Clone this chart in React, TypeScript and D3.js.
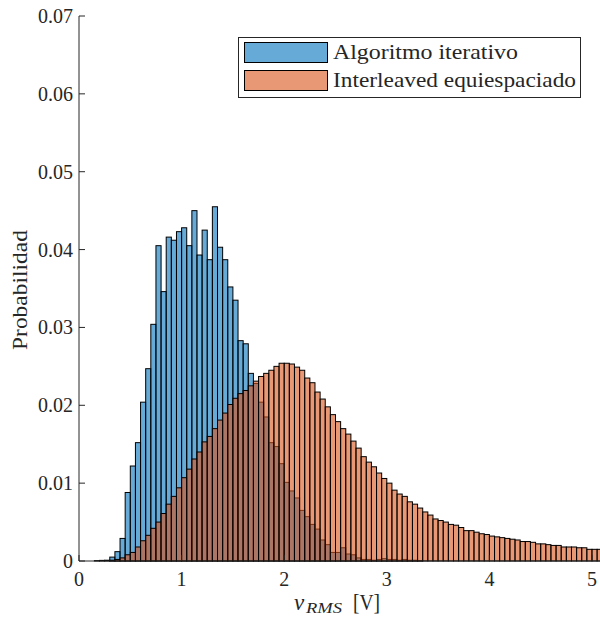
import React from 'react';
import * as d3 from 'd3';

// histogram bins (width 0.05 V)
const binWidth = 0.05;
const seriesNames = ['Algoritmo iterativo', 'Interleaved equiespaciado'];

const iterativo = [
    0, 0, 0, 0.00005, 0.00008, 0.0001, 0.0005, 0.0012, 0.0029, 0.0088,
    0.0122, 0.0152, 0.0204, 0.0247, 0.0304, 0.0405, 0.0346, 0.0416, 0.0412, 0.0423,
    0.0428, 0.0405, 0.0450, 0.0393, 0.0425, 0.0387, 0.0455, 0.0403, 0.0387, 0.0352,
    0.0335, 0.0283, 0.0279, 0.0241, 0.0228, 0.0204, 0.0185, 0.0152, 0.0147, 0.0125,
    0.0101, 0.0090, 0.0081, 0.0065, 0.0057, 0.0047, 0.0041, 0.0027, 0.0021, 0.0011,
    0.0011, 0.0017, 0.0009, 0.0008, 0.0004, 0.0002, 0.0002, 0.0001, 0.0002, 0.0003,
    0.0002, 0.0002, 0.0001, 0.0002, 0.0001, 0.0001, 0.00005
];

const interleaved = [
    0, 0, 0, 0, 0, 0, 0.0001, 0.0002, 0.0004, 0.0008,
    0.0011, 0.0018, 0.0026, 0.0033, 0.0042, 0.0050, 0.0061, 0.0073, 0.0083, 0.0094,
    0.0107, 0.0118, 0.0131, 0.0140, 0.0153, 0.0160, 0.0170, 0.0181, 0.0190, 0.0201,
    0.0209, 0.0215, 0.0219, 0.0225, 0.0231, 0.0237, 0.0241, 0.0245, 0.0250, 0.0254,
    0.0254, 0.0253, 0.0249, 0.0245, 0.0235, 0.0229, 0.0217, 0.0208, 0.0198, 0.0188,
    0.0179, 0.0170, 0.0163, 0.0154, 0.0145, 0.0134, 0.0127, 0.0121, 0.0113, 0.0106,
    0.0100, 0.0091, 0.0086, 0.0083, 0.0076, 0.0073, 0.0068, 0.0063, 0.0059, 0.0054,
    0.0052, 0.0050, 0.0047, 0.0046, 0.0043, 0.0039, 0.0039, 0.0037, 0.0035, 0.0034,
    0.0032, 0.0031, 0.0030, 0.0029, 0.0028, 0.0027, 0.0025, 0.0025, 0.0024, 0.0022,
    0.0022, 0.0021, 0.0020, 0.0020, 0.0018, 0.0018, 0.0018, 0.0017, 0.0017, 0.0015,
    0.0015, 0.0015
];

const xTicks = [0, 1, 2, 3, 4, 5];
const yTicks = [0, 0.01, 0.02, 0.03, 0.04, 0.05, 0.06, 0.07];
const yTickLabels = ['0', '0.01', '0.02', '0.03', '0.04', '0.05', '0.06', '0.07'];

const colors = ['#0072BD', '#D95319'];
const font = '"Liberation Serif", "Times New Roman", serif';
const axisColor = '#262626';

const App = () => {
    const width = 600;
    const height = 618;
    const margin = { top: 16, left: 79, bottom: 57 };

    const x = d3.scaleLinear().domain([0, 5.1]).range([margin.left, margin.left + 5.1 * 102.6]);
    const y = d3.scaleLinear().domain([0, 0.07]).range([height - margin.bottom, margin.top]);

    const bars = (values: number[], i: number) =>
        values.map((v, k) => {
            if (v <= 0) return null;
            const x0 = x(k * binWidth);
            const x1 = x((k + 1) * binWidth);
            return (
                <rect key={k} x={x0} y={y(v)} width={x1 - x0} height={y(0) - y(v)}
                    fill={colors[i]} fillOpacity={0.6} stroke="#000" strokeWidth={1} />
            );
        });

    return (
        <svg width={width} height={height} style={{ position: 'absolute', left: 0, top: 0, background: '#fff' }}>
            <g>{bars(iterativo, 0)}</g>
            <g>{bars(interleaved, 1)}</g>

            {/* y axis */}
            <line x1={x(0)} x2={x(0)} y1={y(0)} y2={y(0.07)} stroke={axisColor} strokeWidth={1} />
            {yTicks.map((t, i) => (
                <g key={t}>
                    <line x1={x(0)} x2={x(0) + 6} y1={y(t)} y2={y(t)} stroke={axisColor} strokeWidth={1} />
                    <text x={x(0) - 6} y={y(t)} dy="0.35em" textAnchor="end" fontFamily={font} fontSize={20} fill={axisColor}>
                        {yTickLabels[i]}
                    </text>
                </g>
            ))}

            {/* x axis */}
            <line x1={x(0)} x2={width} y1={y(0)} y2={y(0)} stroke={axisColor} strokeWidth={1} />
            {xTicks.map(t => (
                <g key={t}>
                    <line x1={x(t)} x2={x(t)} y1={y(0)} y2={y(0) - 6} stroke={axisColor} strokeWidth={1} />
                    <text x={x(t)} y={y(0) + 25} textAnchor="middle" fontFamily={font} fontSize={20} fill={axisColor}>
                        {t}
                    </text>
                </g>
            ))}

            {/* axis labels */}
            <text transform="translate(27,290) rotate(-90)" textAnchor="middle" fontFamily={font} fontSize={20}
                fill={axisColor} textLength={120} lengthAdjust="spacingAndGlyphs">Probabilidad</text>
            <text x={294} y={610} fontFamily={font} fontSize={23} fontStyle="italic" fill={axisColor}>v</text>
            <text x={306} y={613} fontFamily={font} fontSize={15} fontStyle="italic" fill={axisColor}
                textLength={36} lengthAdjust="spacingAndGlyphs">RMS</text>
            <text x={353} y={610} fontFamily={font} fontSize={23} fill={axisColor}
                textLength={27} lengthAdjust="spacingAndGlyphs">[V]</text>

            {/* legend */}
            <rect x={238.5} y={37.5} width={342} height={60} fill="#fff" stroke={axisColor} strokeWidth={1} />
            {seriesNames.map((name, i) => (
                <g key={name}>
                    <rect x={244.5} y={42.5 + i * 28} width={83} height={20} fill={colors[i]} fillOpacity={0.6}
                        stroke="#000" strokeWidth={1} />
                    <text x={333} y={59 + i * 28} fontFamily={font} fontSize={21} fill={axisColor}
                        textLength={i === 0 ? 185 : 243} lengthAdjust="spacingAndGlyphs">{name}</text>
                </g>
            ))}
        </svg>
    );
};

export default App;
